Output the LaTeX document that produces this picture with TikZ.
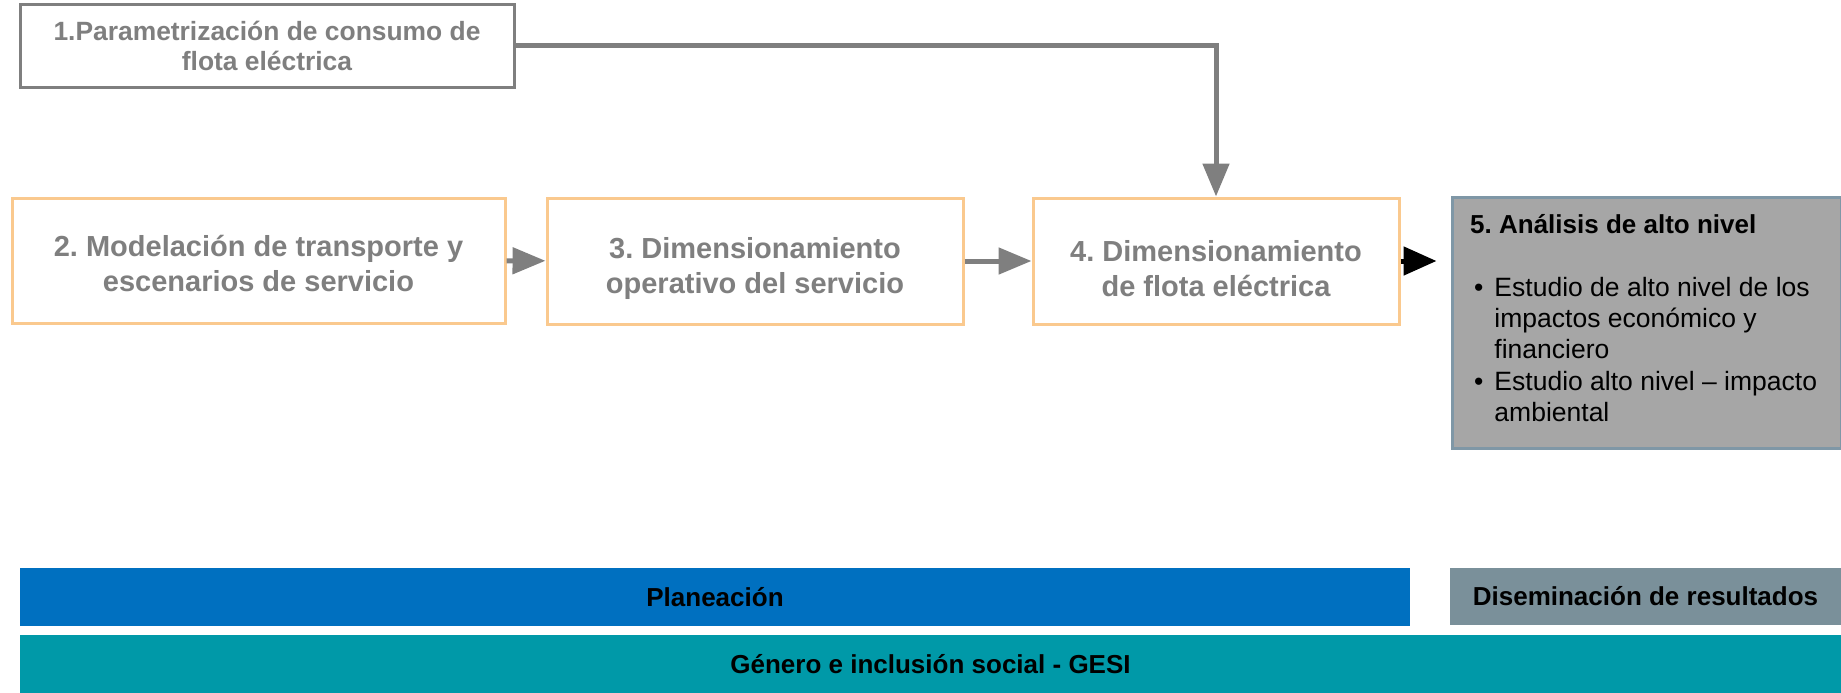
\documentclass[tikz,border=0pt]{standalone}
\usepackage{fontspec}
\setmainfont{Liberation Sans}
\usepackage{xcolor}
\usetikzlibrary{arrows.meta,positioning}
\frenchspacing

\definecolor{grisTexto}{HTML}{7F7F7F}
\definecolor{naranjaBorde}{HTML}{FAC98E}
\definecolor{grisCaja}{HTML}{A6A6A6}
\definecolor{bordeCaja}{HTML}{7F97A6}
\definecolor{azulPlan}{HTML}{0070C0}
\definecolor{grisDisem}{HTML}{7A909A}
\definecolor{verdeGesi}{HTML}{0099A8}

% puntal para bajar el texto dentro de la caja
\newcommand{\bajar}[1]{\rule{0pt}{#1}}

\tikzset{
  etapa/.style={draw=naranjaBorde, line width=3pt, fill=white, align=center,
                text=grisTexto, font=\fontsize{29}{35}\selectfont\bfseries, inner sep=0pt},
  param/.style={draw=grisTexto, line width=3pt, fill=white, align=center,
                text=grisTexto, font=\fontsize{26.4}{30.5}\selectfont\bfseries, inner sep=0pt,
                minimum width=494pt, minimum height=83pt},
  barra/.style={inner sep=0pt, font=\fontsize{26}{30}\selectfont\bfseries, text=black},
  flecha/.style={draw=grisTexto, line width=5pt, -{Triangle[length=33pt,width=26pt]}},
}

\begin{document}
\begin{tikzpicture}[x=1pt,y=-1pt]
  \useasboundingbox (0,0) rectangle (1841,693);
  % etapas
  \node[param] (param) at (267,46) {1.Parametrización de consumo de\\flota eléctrica};
  \node[etapa, minimum width=493pt, minimum height=125pt] (modelo) at (258.5,260.5)
       {\bajar{28pt}2. Modelación de transporte y\\escenarios de servicio};
  \node[etapa, minimum width=416pt, minimum height=126pt] (operativo) at (755,261)
       {\bajar{36pt}3. Dimensionamiento\\operativo del servicio};
  \node[etapa, minimum width=366pt, minimum height=126pt] (flota) at (1216,261)
       {\bajar{36pt}4. Dimensionamiento\\de flota eléctrica};
  \node[draw=bordeCaja, fill=grisCaja, line width=3pt, inner sep=0pt,
        minimum width=389pt, minimum height=251pt] (analisis) at (1646.5,322.5) {};
  \node[anchor=west, inner sep=0pt, font=\fontsize{26}{30}\selectfont\bfseries]
       (analisisTitulo) at (1470,224) {5. Análisis de alto nivel};
  \node[anchor=north west, inner sep=0pt, font=\fontsize{26.5}{31.3}\selectfont]
       (analisisLista) at (1474,274)
       {\renewcommand{\arraystretch}{1}%
        \begin{tabular}{@{}l@{\hspace{11pt}}l@{}}
        \textbullet & Estudio de alto nivel de los\\
                    & impactos económico y\\
                    & financiero\\
        \textbullet & Estudio alto nivel – impacto\\
                    & ambiental
        \end{tabular}};
  % conectores
  \draw[flecha] (param.east) -| (flota.north);
  \draw[flecha] (modelo) -- (operativo);
  \draw[flecha] (operativo) -- (flota);
  \draw[line width=5pt, -{Triangle[length=33pt,width=28pt]}, shorten >=14pt]
       (flota) -- (analisis.west |- flota);
  % franjas inferiores
  \node[barra, fill=azulPlan, minimum width=1390pt, minimum height=58pt]
       (planeacion) at (715,597) {Planeación};
  \node[barra, fill=grisDisem, minimum width=391pt, minimum height=57pt]
       (diseminacion) at (1645.5,596.5) {Diseminación de resultados};
  \node[barra, fill=verdeGesi, minimum width=1821pt, minimum height=58pt]
       (gesi) at (930.5,664) {Género e inclusión social - GESI};
\end{tikzpicture}
\end{document}
